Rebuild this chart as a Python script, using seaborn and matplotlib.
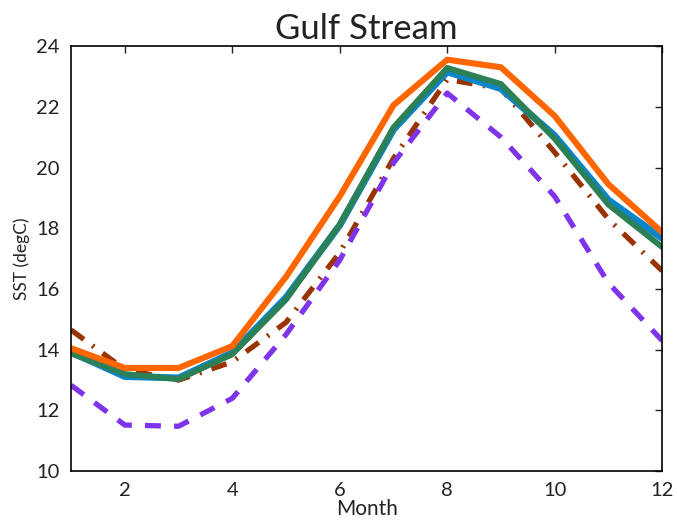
import numpy as np
import matplotlib
matplotlib.use("Agg")
import matplotlib.pyplot as plt
import seaborn as sns
import pandas as pd

# datos
meses = [1, 2, 3, 4, 5, 6, 7, 8, 9, 10, 11, 12]
naranja = [14.05, 13.4, 13.4, 14.12, 16.4, 19.05, 22.05, 23.55, 23.3, 21.7, 19.45, 17.87]
azul = [13.92, 13.12, 13.07, 13.9, 15.72, 18.1, 21.25, 23.15, 22.6, 21.05, 18.93, 17.67]
verde = [13.88, 13.2, 13.03, 13.85, 15.65, 18.12, 21.32, 23.28, 22.75, 20.95, 18.78, 17.38]
marron = [14.65, 13.35, 13.0, 13.6, 14.9, 17.2, 20.3, 22.9, 22.6, 20.5, 18.3, 16.6]
morado = [12.83, 11.52, 11.48, 12.4, 14.5, 16.95, 20.15, 22.45, 21.0, 19.05, 16.2, 14.3]

sns.set_style("white")
plt.rcParams["font.family"] = ["Lato", "DejaVu Sans"]

fig, ax = plt.subplots(figsize=(6.77, 5.23), dpi=100)
plt.subplots_adjust(left=0.105, right=0.978, bottom=0.099, top=0.912)

df = pd.DataFrame({"mes": meses, "naranja": naranja, "azul": azul, "verde": verde,
                   "marron": marron, "morado": morado})

sns.lineplot(data=df, x="mes", y="marron", color="#993300", linewidth=3.8, ax=ax).lines[-1].set_dashes([3.0, 2.0, 0.4, 2.0])
sns.lineplot(data=df, x="mes", y="morado", color="#7f33ea", linewidth=3.8, ax=ax).lines[-1].set_dashes([3.0, 2.5])
sns.lineplot(data=df, x="mes", y="azul", color="#0b84c8", linewidth=5.0, ax=ax)
sns.lineplot(data=df, x="mes", y="verde", color="#2b8055", linewidth=4.2, ax=ax)
sns.lineplot(data=df, x="mes", y="naranja", color="#ff6600", linewidth=4.4, ax=ax)

for ln in ax.lines[:2]:
    ln.set_dash_capstyle("butt")

ax.set_xlim(1, 12)
ax.set_ylim(10, 24)
ax.set_xticks([2, 4, 6, 8, 10, 12])
ax.set_yticks([10, 12, 14, 16, 18, 20, 22, 24])
ax.tick_params(direction="in", length=5, width=1, top=True, right=True,
               labelsize=14.5, colors="#222222", pad=8)
for s in ax.spines.values():
    s.set_visible(True)
    s.set_color("black")
    s.set_linewidth(1.2)

ax.set_title("Gulf Stream", fontsize=25, pad=5, color="#222222")
ax.set_xlabel("Month", fontsize=15, labelpad=0, color="#222222")
ax.set_ylabel("SST (degC)", fontsize=12.5, labelpad=5, color="#222222")

plt.savefig("out.png", dpi=100)
